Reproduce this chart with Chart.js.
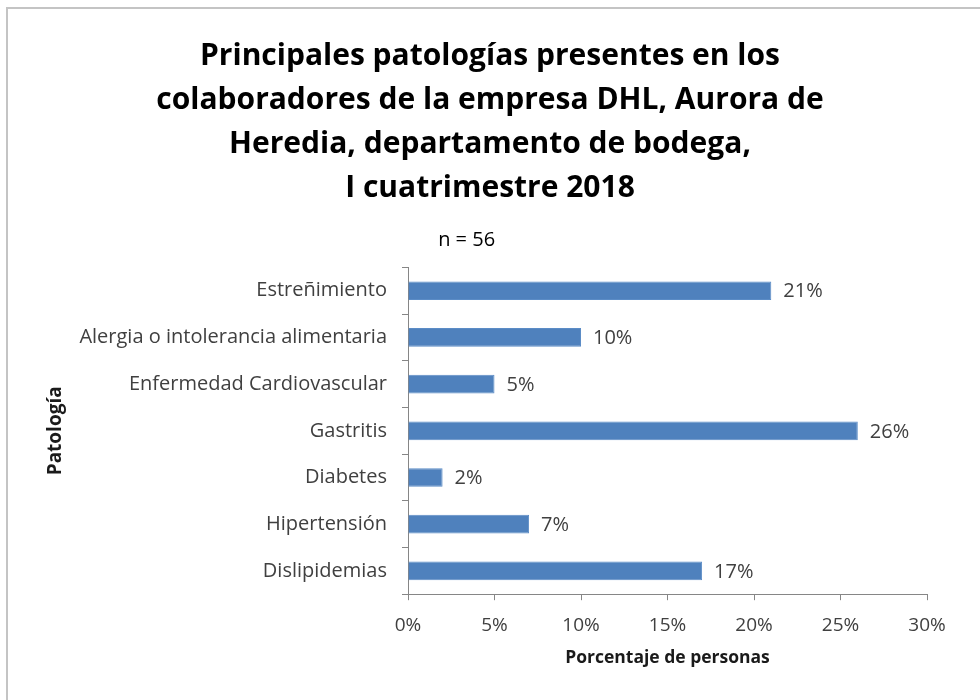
<!DOCTYPE html>
<html>
<head>
<meta charset="utf-8">
<script src="https://cdn.jsdelivr.net/npm/chart.js@4"></script>
<style>
  html, body { margin: 0; padding: 0; background: #fff; }
  #wrap { position: relative; width: 980px; height: 700px; }
  #frame {
    position: absolute; left: 6px; top: 7px; right: -4px; bottom: -4px;
    border-left: 2px solid #c4c4c4; border-top: 2px solid #c4c4c4;
    pointer-events: none;
  }
</style>
</head>
<body>
<div id="wrap">
  <canvas id="chart" width="980" height="700"></canvas>
  <div id="frame"></div>
</div>
<script>
const categories = [
  "Estreñimiento",
  "Alergia o intolerancia alimentaria",
  "Enfermedad Cardiovascular",
  "Gastritis",
  "Diabetes",
  "Hipertensión",
  "Dislipidemias"
];
const percentages = [21, 10, 5, 26, 2, 7, 17];
const titleLines = [
  "Principales patologías presentes en los",
  "colaboradores de la empresa DHL, Aurora de",
  "Heredia, departamento de bodega,",
  "I cuatrimestre 2018"
];
const sampleNote = "n = 56";

const barColor = "#4f81bd";
const axisColor = "#868686";
const textColor = "#404040";
const fontFamily = "'Open Sans', sans-serif";

// value labels to the right of each bar
const barLabels = {
  id: "barLabels",
  afterDatasetsDraw(chart) {
    const ctx = chart.ctx;
    const meta = chart.getDatasetMeta(0);
    ctx.save();
    ctx.font = "20px " + fontFamily;
    ctx.fillStyle = textColor;
    ctx.textAlign = "left";
    ctx.textBaseline = "middle";
    meta.data.forEach((bar, i) => {
      ctx.fillText(percentages[i] + "%", bar.x + 12, bar.y + 1);
    });
    ctx.restore();
  }
};

new Chart(document.getElementById("chart"), {
  type: "bar",
  data: {
    labels: categories,
    datasets: [{
      data: percentages,
      backgroundColor: barColor,
      borderColor: "#5b8cc6",
      borderWidth: 1,
      barPercentage: 0.4,
      categoryPercentage: 1.0
    }]
  },
  options: {
    indexAxis: "y",
    responsive: false,
    animation: false,
    layout: { padding: { left: 53, right: 53, top: 0, bottom: 10 } },
    plugins: {
      legend: { display: false },
      tooltip: { enabled: false },
      title: {
        display: true,
        text: titleLines,
        color: "#000",
        font: { family: fontFamily, size: 30, weight: "bold", lineHeight: 1.47 },
        padding: { top: 34, bottom: 0 }
      },
      subtitle: {
        display: true,
        text: sampleNote + "\u00a0".repeat(9),
        color: "#000",
        font: { family: fontFamily, size: 20, lineHeight: 1.2 },
        padding: { top: 18, bottom: 15 }
      }
    },
    scales: {
      x: {
        min: 0,
        max: 30,
        ticks: {
          stepSize: 5,
          color: textColor,
          padding: 14,
          font: { family: fontFamily, size: 19 },
          callback: v => v + "%"
        },
        grid: { drawOnChartArea: false, tickLength: 6, color: axisColor },
        border: { color: axisColor },
        title: {
          display: true,
          text: "Porcentaje de personas",
          color: "#1a1a1a",
          font: { family: fontFamily, size: 17.5, weight: "bold", lineHeight: 1.2 },
          padding: { top: -3, bottom: 21 }
        }
      },
      y: {
        ticks: {
          color: textColor,
          padding: 15,
          font: { family: fontFamily, size: 20 }
        },
        grid: { drawOnChartArea: false, tickLength: 6, color: axisColor },
        border: { color: axisColor },
        title: {
          display: true,
          text: "Patología",
          color: "#1a1a1a",
          font: { family: fontFamily, size: 19, weight: "bold", lineHeight: 1.2 },
          padding: { top: -9, bottom: 0 }
        },
        afterFit(scale) {
          scale.width = 408 - 53;
        }
      }
    }
  },
  plugins: [barLabels]
});
</script>
</body>
</html>
